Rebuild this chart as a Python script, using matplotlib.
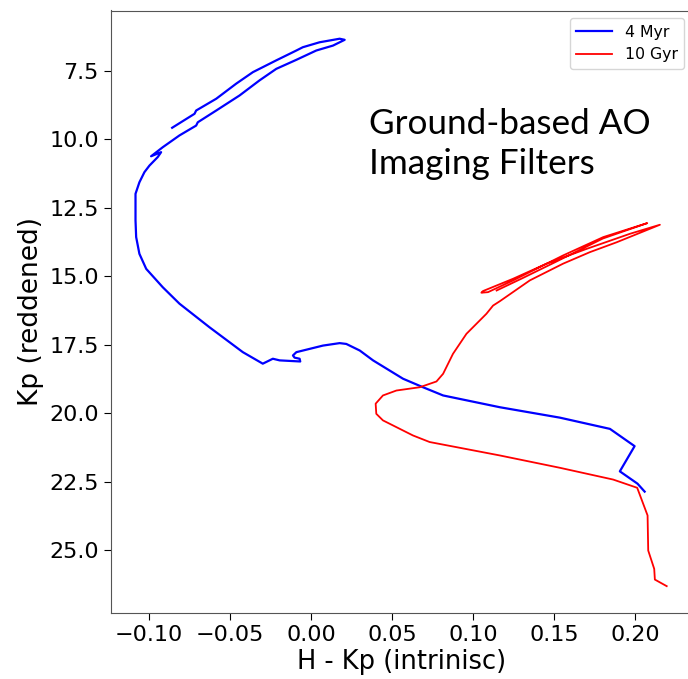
import numpy as np
import matplotlib
matplotlib.use("Agg")
import matplotlib.pyplot as plt

# 4 Myr isochrone, faint end -> bright end
young_hk = [0.2057, 0.2013, 0.1904, 0.1995, 0.1843, 0.1534, 0.1164, 0.0814, 0.0690,
            0.0567, 0.0382, 0.0300, 0.0217, 0.0176, 0.0073, -0.0091, -0.0112, -0.0102,
            -0.0071, -0.0067, -0.0194, -0.0236, -0.0298, -0.0421, -0.0627, -0.0812,
            -0.0915, -0.1017, -0.1059, -0.1079, -0.1083, -0.1083, -0.1059, -0.1028,
            -0.0997, -0.0946, -0.0925, -0.0987, -0.0915, -0.0812, -0.0709, -0.0699,
            -0.0585, -0.0441, -0.0318, -0.0215, -0.0091, 0.0032, 0.0135, 0.0207,
            0.0176, 0.0052, -0.0051, -0.0091, -0.0215, -0.0359, -0.0462, -0.0585,
            -0.0709, -0.0719, -0.0857]
young_kp = [22.86, 22.57, 22.12, 21.20, 20.57, 20.16, 19.78, 19.35, 19.05,
            18.74, 18.07, 17.71, 17.47, 17.44, 17.53, 17.77, 17.89, 17.97,
            18.01, 18.11, 18.07, 18.01, 18.19, 17.77, 16.86, 16.00,
            15.40, 14.73, 14.18, 13.57, 12.96, 11.99, 11.57, 11.20,
            10.96, 10.65, 10.47, 10.62, 10.29, 9.86, 9.50, 9.38,
            8.95, 8.40, 7.85, 7.43, 7.10, 6.76, 6.58, 6.37,
            6.33, 6.46, 6.64, 6.76, 7.12, 7.55, 7.97, 8.52,
            8.95, 9.07, 9.58]

# 10 Gyr isochrone, faint end -> bright end
old_hk = [0.2193, 0.2120, 0.2116, 0.2079, 0.2075, 0.2011, 0.1863, 0.1534, 0.1164,
          0.0731, 0.0628, 0.0443, 0.0402, 0.0398, 0.0443, 0.0526, 0.0670, 0.0773,
          0.0814, 0.0875, 0.0958, 0.1081, 0.1122, 0.1164, 0.1349, 0.1554, 0.1719,
          0.1884, 0.2151, 0.1966, 0.1699, 0.1452, 0.1246, 0.1060, 0.1050, 0.1091,
          0.1246, 0.1554, 0.1802, 0.2073, 0.1800, 0.1500, 0.1300, 0.1144]
old_kp = [26.31, 26.07, 25.68, 25.01, 23.73, 22.72, 22.42, 21.99, 21.54,
          21.05, 20.81, 20.26, 20.02, 19.65, 19.35, 19.17, 19.05, 18.84,
          18.56, 17.83, 17.10, 16.37, 16.07, 15.91, 15.15, 14.54, 14.12,
          13.76, 13.12, 13.45, 14.00, 14.54, 15.09, 15.54, 15.60, 15.58,
          15.15, 14.24, 13.57, 13.06, 13.62, 14.50, 15.08, 15.52]

fig, ax = plt.subplots(figsize=(6.88, 6.79), dpi=100)
# axes run slightly past the right edge of the canvas, as in the original crop
fig.subplots_adjust(left=110.7 / 688, right=692 / 688,
                    top=1 - 10.5 / 679, bottom=1 - 613 / 679)

ax.plot(young_hk, young_kp, color='blue', lw=1.6, label='4 Myr')
ax.plot(old_hk, old_kp, color='red', lw=1.3, label='10 Gyr')

ax.set_xlim(-0.1236, 0.2349)
ax.set_ylim(27.29, 5.30)
ax.set_xticks([-0.10, -0.05, 0.00, 0.05, 0.10, 0.15, 0.20])
ax.set_yticks([7.5, 10.0, 12.5, 15.0, 17.5, 20.0, 22.5, 25.0])
ax.tick_params(labelsize=16, length=5)
for s in ax.spines.values():
    s.set_color('#555555')

ax.set_xlabel('H - Kp (intrinisc)', fontsize=18.5, labelpad=3)
ax.set_ylabel('Kp (reddened)', fontsize=19)
ax.legend(loc='upper right', fontsize=11.3, handlelength=2.3)

ax.text(0.0355, 8.87, 'Ground-based AO\nImaging Filters', fontsize=25.3,
        family='Lato', linespacing=1.3, va='top')

fig.savefig('out.png', dpi=100)
